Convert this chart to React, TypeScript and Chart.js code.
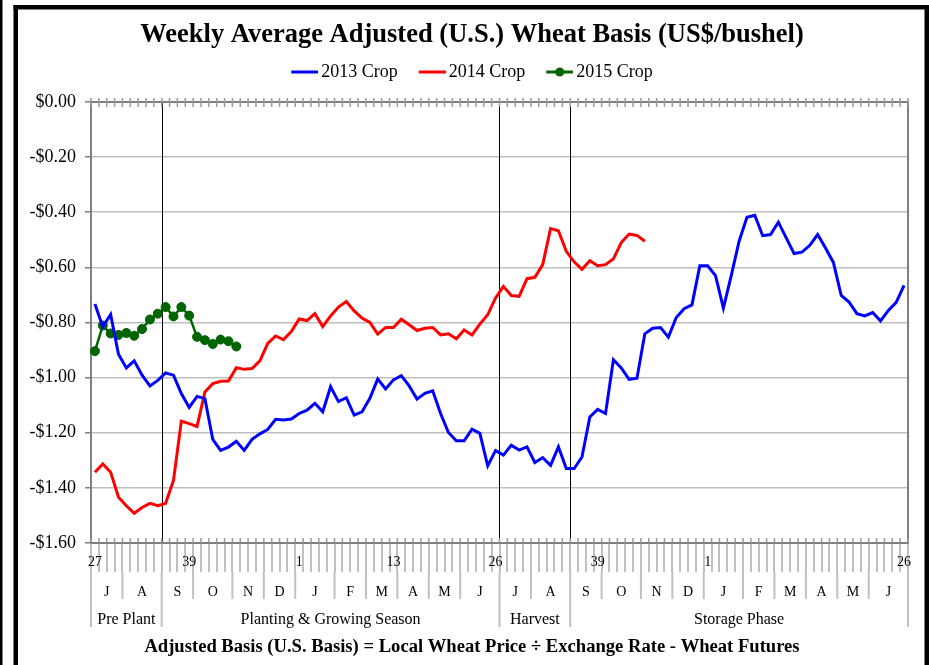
import React, { useEffect, useRef } from 'react';
import { Chart, registerables } from 'chart.js';

Chart.register(...registerables);

const FONT = "'Liberation Serif', 'Times New Roman', Times, serif";
const BLUE = '#0000ff';
const RED = '#ff0000';
const GREEN = '#006400';

const titleText = 'Weekly Average Adjusted (U.S.) Wheat Basis (US$/bushel)';
const footerText = 'Adjusted Basis (U.S. Basis) = Local Wheat Price \u00f7 Exchange Rate - Wheat Futures';
const seriesNames = ['2013 Crop', '2014 Crop', '2015 Crop'];

// Week-of-year categories (2 crop years, 104 weeks)
const weeks = [
  27, 28, 29, 30, 31, 32, 33, 34, 35, 36, 37, 38, 39, 40, 41, 42, 43, 44, 45, 46, 47, 48, 49, 50, 51, 52,
  1, 2, 3, 4, 5, 6, 7, 8, 9, 10, 11, 12, 13, 14, 15, 16, 17, 18, 19, 20, 21, 22, 23, 24, 25, 26,
  27, 28, 29, 30, 31, 32, 33, 34, 35, 36, 37, 38, 39, 40, 41, 42, 43, 44, 45, 46, 47, 48, 49, 50, 51, 52,
  1, 2, 3, 4, 5, 6, 7, 8, 9, 10, 11, 12, 13, 14, 15, 16, 17, 18, 19, 20, 21, 22, 23, 24, 25, 26,
];
const labeledWeekIndices = [0, 12, 26, 38, 51, 64, 78, 103];

const months = ['J', 'A', 'S', 'O', 'N', 'D', 'J', 'F', 'M', 'A', 'M', 'J', 'J', 'A', 'S', 'O', 'N', 'D', 'J', 'F', 'M', 'A', 'M', 'J'];
const monthWeekCounts = [4, 5, 4, 5, 4, 4, 5, 4, 4, 4, 4, 5, 4, 5, 4, 5, 4, 4, 5, 4, 4, 4, 4, 5];
const phases = ['Pre Plant', 'Planting & Growing Season', 'Harvest', 'Storage Phase'];
const phaseWeekCounts = [9, 43, 9, 43];

const crop2013 = [
  -0.733, -0.816, -0.771, -0.915, -0.965, -0.939, -0.991, -1.030, -1.010, -0.983,
  -0.991, -1.058, -1.108, -1.068, -1.076, -1.224, -1.264, -1.252, -1.231, -1.264,
  -1.224, -1.204, -1.188, -1.151, -1.154, -1.150, -1.130, -1.118, -1.093, -1.124,
  -1.033, -1.087, -1.073, -1.136, -1.124, -1.075, -1.005, -1.041, -1.008, -0.993,
  -1.030, -1.078, -1.057, -1.048, -1.130, -1.199, -1.229, -1.229, -1.187, -1.202,
  -1.320, -1.265, -1.281, -1.245, -1.263, -1.251, -1.308, -1.290, -1.318, -1.251,
  -1.330, -1.330, -1.288, -1.143, -1.115, -1.130, -0.935, -0.965, -1.006, -1.002,
  -0.841, -0.821, -0.818, -0.853, -0.782, -0.750, -0.736, -0.594, -0.594, -0.630,
  -0.748, -0.630, -0.505, -0.418, -0.411, -0.485, -0.481, -0.436, -0.493, -0.550,
  -0.545, -0.520, -0.481, -0.530, -0.582, -0.702, -0.726, -0.768, -0.776, -0.764,
  -0.794, -0.756, -0.727, -0.665,
];

const crop2014 = [
  -1.343, -1.313, -1.343, -1.434, -1.465, -1.492, -1.471, -1.456, -1.465, -1.456,
  -1.373, -1.158, -1.167, -1.177, -1.052, -1.022, -1.013, -1.012, -0.964, -0.970,
  -0.967, -0.939, -0.876, -0.849, -0.862, -0.833, -0.787, -0.793, -0.768, -0.815,
  -0.776, -0.744, -0.724, -0.758, -0.784, -0.800, -0.842, -0.818, -0.818, -0.788,
  -0.808, -0.829, -0.821, -0.818, -0.845, -0.841, -0.859, -0.827, -0.845, -0.806,
  -0.772, -0.711, -0.669, -0.702, -0.705, -0.641, -0.636, -0.590, -0.459, -0.467,
  -0.542, -0.580, -0.607, -0.576, -0.594, -0.590, -0.569, -0.510, -0.479, -0.484,
  -0.505,
];

const crop2015 = [
  -0.904, -0.811, -0.840, -0.845, -0.838, -0.848, -0.824, -0.789, -0.768, -0.744,
  -0.778, -0.744, -0.775, -0.852, -0.864, -0.878, -0.862, -0.868, -0.887,
];

function cumulative(counts: number[]): number[] {
  const out = [0];
  counts.forEach((c) => out.push(out[out.length - 1] + c));
  return out;
}

function makeIcon(color: string, marker: boolean): HTMLCanvasElement {
  const c = document.createElement('canvas');
  c.width = 33;
  c.height = 12;
  const g = c.getContext('2d')!;
  g.strokeStyle = color;
  g.lineWidth = 3;
  g.beginPath();
  g.moveTo(6, 6);
  g.lineTo(33, 6);
  g.stroke();
  if (marker) {
    g.fillStyle = color;
    g.beginPath();
    g.arc(19.5, 6, 4.5, 0, Math.PI * 2);
    g.fill();
  }
  return c;
}

const decorPlugin = {
  id: 'decor',
  beforeDraw(chart: any) {
    const { ctx, width, height } = chart;
    ctx.save();
    ctx.fillStyle = '#ffffff';
    ctx.fillRect(0, 0, width, height);
    ctx.fillStyle = '#000000';
    ctx.fillRect(0, 0, 2.5, height);
    ctx.fillRect(13.5, 5, 4.5, height);
    ctx.fillRect(13.5, 5, width - 13.5, 4.5);
    ctx.fillRect(924.5, 5, 4.5, height);
    ctx.restore();
  },
  beforeDatasetsDraw(chart: any) {
    const { ctx, chartArea: a } = chart;
    const xs = chart.scales.x;
    const p0 = xs.getPixelForValue(0);
    const step = xs.getPixelForValue(1) - p0;
    const edge = (k: number) => p0 + (k - 0.5) * step;
    const monthEdges = cumulative(monthWeekCounts);
    const phaseEdges = cumulative(phaseWeekCounts);

    ctx.save();
    // phase divider lines inside plot
    ctx.strokeStyle = '#000000';
    ctx.lineWidth = 1;
    phaseEdges.slice(1, -1).forEach((k) => {
      const x = Math.round(edge(k)) + 0.5;
      ctx.beginPath();
      ctx.moveTo(x, a.top);
      ctx.lineTo(x, a.bottom);
      ctx.stroke();
    });

    // plot border
    ctx.strokeStyle = '#7f7f7f';
    ctx.lineWidth = 2;
    ctx.strokeRect(a.left, a.top, a.right - a.left, a.bottom - a.top);

    // week tick marks on top (crossing) and bottom (inside)
    ctx.strokeStyle = '#9a9a9a';
    ctx.lineWidth = 1.5;
    for (let k = 0; k <= weeks.length; k++) {
      const x = edge(k);
      ctx.beginPath();
      ctx.moveTo(x, a.top - 4);
      ctx.lineTo(x, a.top + 5);
      ctx.moveTo(x, a.bottom - 5);
      ctx.lineTo(x, a.bottom);
      ctx.stroke();
    }

    // multi-level category separators
    ctx.strokeStyle = '#c0c0c0';
    ctx.lineWidth = 2;
    monthEdges.forEach((k) => {
      const x = edge(k);
      ctx.beginPath();
      ctx.moveTo(x, a.bottom + 29);
      ctx.lineTo(x, a.bottom + 56);
      ctx.stroke();
    });
    phaseEdges.forEach((k) => {
      const x = edge(k);
      ctx.beginPath();
      ctx.moveTo(x, a.bottom + 56);
      ctx.lineTo(x, a.bottom + 84);
      ctx.stroke();
    });

    // month labels
    ctx.fillStyle = '#000000';
    ctx.textAlign = 'center';
    ctx.textBaseline = 'alphabetic';
    ctx.font = `14px ${FONT}`;
    months.forEach((m, i) => {
      const cx = (edge(monthEdges[i]) + edge(monthEdges[i + 1])) / 2;
      ctx.fillText(m, cx, a.bottom + 53);
    });
    // phase labels
    ctx.font = `16px ${FONT}`;
    phases.forEach((p, i) => {
      const cx = (edge(phaseEdges[i]) + edge(phaseEdges[i + 1])) / 2;
      ctx.fillText(p, cx, a.bottom + 80.5);
    });
    ctx.restore();
  },
};

export default function App() {
  const ref = useRef<HTMLCanvasElement>(null);

  useEffect(() => {
    const canvas = ref.current;
    if (!canvas) return;
    const icons = [makeIcon(BLUE, false), makeIcon(RED, false), makeIcon(GREEN, true)];
    const labelSet = new Set(labeledWeekIndices);

    const chart = new Chart(canvas, {
      type: 'line',
      data: {
        labels: weeks.map(String),
        datasets: [
          {
            label: seriesNames[0],
            data: crop2013,
            borderColor: BLUE,
            backgroundColor: BLUE,
            borderWidth: 3,
            pointRadius: 0,
            tension: 0,
            xAxisID: 'x',
            yAxisID: 'y',
          },
          {
            label: seriesNames[1],
            data: crop2014,
            borderColor: RED,
            backgroundColor: RED,
            borderWidth: 3,
            pointRadius: 0,
            tension: 0,
            xAxisID: 'x',
            yAxisID: 'y',
          },
          {
            label: seriesNames[2],
            data: crop2015,
            borderColor: GREEN,
            backgroundColor: GREEN,
            borderWidth: 2.5,
            pointRadius: 4.5,
            pointBackgroundColor: GREEN,
            pointBorderColor: GREEN,
            pointBorderWidth: 1,
            tension: 0,
            xAxisID: 'x',
            yAxisID: 'y',
          },
        ],
      },
      options: {
        responsive: false,
        animation: false,
        devicePixelRatio: 1,
        layout: { padding: { left: 18, right: 3, top: 0, bottom: 0 } },
        plugins: {
          title: {
            display: true,
            text: titleText,
            color: '#000',
            font: { family: FONT, size: 26.5, weight: 'bold', lineHeight: 1.2 },
            padding: { top: 19.1, bottom: -8.9 },
          },
          subtitle: {
            display: true,
            position: 'bottom',
            text: footerText,
            color: '#000',
            font: { family: FONT, size: 18.6, weight: 'bold', lineHeight: 1.2 },
            padding: { top: 0, bottom: 6.5 },
          },
          legend: {
            display: true,
            position: 'top',
            labels: {
              usePointStyle: true,
              pointStyleWidth: 21,
              padding: 21,
              color: '#000',
              font: { family: FONT, size: 18 },
              generateLabels: (ch: any) => {
                const base = (Chart.defaults.plugins.legend.labels as any).generateLabels(ch);
                return base.map((item: any, i: number) => ({ ...item, pointStyle: icons[i] }));
              },
            },
          },
          tooltip: { enabled: false },
        },
        scales: {
          x: {
            type: 'category',
            position: 'bottom',
            offset: true,
            afterFit: (s: any) => {
              s.height = 665 - 543 - (18.6 * 1.2 + 6.5);
            },
            border: { display: false },
            grid: {
              display: true,
              offset: true,
              drawOnChartArea: false,
              drawTicks: true,
              tickLength: 29,
              color: '#c0c0c0',
              lineWidth: 2,
            },
            ticks: {
              autoSkip: false,
              maxRotation: 0,
              minRotation: 0,
              padding: -18,
              color: '#000',
              font: { family: FONT, size: 14 },
              callback: (_v: any, i: number) => (labelSet.has(i) ? String(weeks[i]) : ''),
            },
          },
          x2: {
            type: 'linear',
            position: 'top',
            display: true,
            min: 0,
            max: 1,
            afterFit: (s: any) => {
              s.height = 11;
            },
            ticks: { display: false },
            border: { display: false },
            grid: { drawOnChartArea: false, drawTicks: true, tickLength: 11, color: 'rgba(0,0,0,0)' },
          },
          y: {
            type: 'linear',
            position: 'left',
            min: -1.6,
            max: 0,
            afterFit: (s: any) => {
              s.width = 73;
            },
            border: { display: false },
            grid: {
              color: '#bfbfbf',
              lineWidth: 1.5,
              tickLength: 6,
              tickColor: '#808080',
              tickWidth: 1.5,
            },
            ticks: {
              stepSize: 0.2,
              padding: 9,
              color: '#000',
              font: { family: FONT, size: 18 },
              callback: (v: any) => {
                const n = Number(v);
                if (Math.abs(n) < 1e-9) return '$0.00';
                return (n < 0 ? '-$' : '$') + Math.abs(n).toFixed(2);
              },
            },
          },
          y2: {
            type: 'linear',
            position: 'right',
            display: true,
            min: -1.6,
            max: 0,
            afterFit: (s: any) => {
              s.width = 18;
            },
            ticks: { display: false },
            border: { display: false },
            grid: { drawOnChartArea: false, drawTicks: false, color: 'rgba(0,0,0,0)' },
          },
        },
      },
      plugins: [decorPlugin],
    } as any);

    return () => chart.destroy();
  }, []);

  return (
    <div style={{ position: 'fixed', left: 0, top: 0, width: 929, height: 665, background: '#fff', overflow: 'hidden' }}>
      <canvas ref={ref} width={929} height={665} style={{ display: 'block', width: 929, height: 665 }} />
    </div>
  );
}
